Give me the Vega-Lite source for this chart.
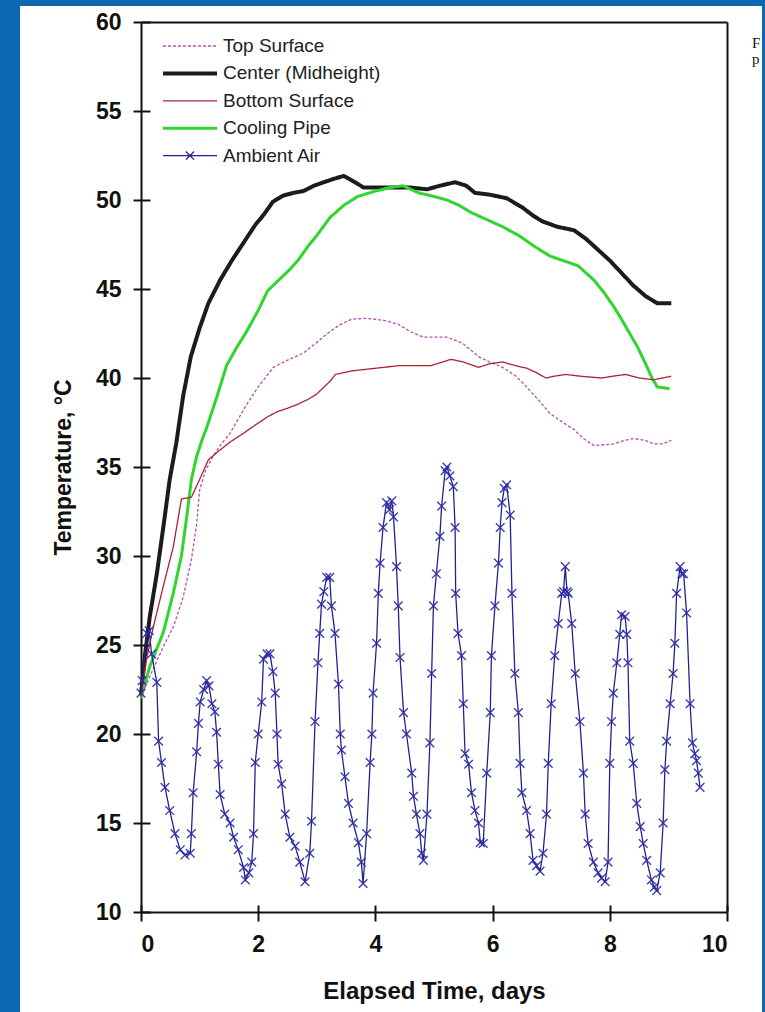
{
  "$schema": "https://vega.github.io/schema/vega-lite/v6.json",
  "width": 742,
  "height": 1006,
  "autosize": {"type": "none"},
  "padding": {"left": 20, "top": 6, "right": 3, "bottom": 0},
  "background": "#0b68b1",
  "title": {"text": ["F", "p"], "orient": "top", "anchor": "end", "frame": "group", "align": "left", "dx": -10, "dy": 61, "font": "Liberation Serif", "fontSize": 15, "fontWeight": "normal", "color": "#111", "lineHeight": 16, "offset": 0},
  "config": {
    "view": {"fill": "white", "stroke": null},
    "font": "Liberation Sans",
    "axis": {"grid": false, "domainColor": "#111", "domainWidth": 2, "tickColor": "#111", "tickWidth": 2, "labelFont": "Liberation Sans", "labelFontWeight": "bold", "labelFontSize": 23, "labelColor": "#111", "titleFont": "Liberation Sans", "titleFontWeight": "bold", "titleFontSize": 23, "titleColor": "#111"},
    "legend": {"labelFont": "Liberation Sans"}
  },
  "datasets": {
    "temps": [
      {"series":"Center (Midheight)","day":0,"temp":22.2},{"series":"Center (Midheight)","day":0.07,"temp":24.5},{"series":"Center (Midheight)","day":0.15,"temp":26.6},{"series":"Center (Midheight)","day":0.27,"temp":29.0},{"series":"Center (Midheight)","day":0.38,"temp":31.6},{"series":"Center (Midheight)","day":0.49,"temp":34.3},{"series":"Center (Midheight)","day":0.6,"temp":36.3},{"series":"Center (Midheight)","day":0.72,"temp":39.0},{"series":"Center (Midheight)","day":0.85,"temp":41.2},{"series":"Center (Midheight)","day":1.0,"temp":42.8},{"series":"Center (Midheight)","day":1.15,"temp":44.2},{"series":"Center (Midheight)","day":1.35,"temp":45.5},{"series":"Center (Midheight)","day":1.55,"temp":46.6},{"series":"Center (Midheight)","day":1.75,"temp":47.6},{"series":"Center (Midheight)","day":1.95,"temp":48.6},{"series":"Center (Midheight)","day":2.1,"temp":49.2},{"series":"Center (Midheight)","day":2.25,"temp":49.9},{"series":"Center (Midheight)","day":2.43,"temp":50.25},{"series":"Center (Midheight)","day":2.6,"temp":50.4},{"series":"Center (Midheight)","day":2.77,"temp":50.5},{"series":"Center (Midheight)","day":2.95,"temp":50.8},{"series":"Center (Midheight)","day":3.12,"temp":51.0},{"series":"Center (Midheight)","day":3.3,"temp":51.2},{"series":"Center (Midheight)","day":3.46,"temp":51.35},{"series":"Center (Midheight)","day":3.6,"temp":51.1},{"series":"Center (Midheight)","day":3.8,"temp":50.7},{"series":"Center (Midheight)","day":4.0,"temp":50.7},{"series":"Center (Midheight)","day":4.3,"temp":50.7},{"series":"Center (Midheight)","day":4.6,"temp":50.7},{"series":"Center (Midheight)","day":4.88,"temp":50.6},{"series":"Center (Midheight)","day":5.1,"temp":50.8},{"series":"Center (Midheight)","day":5.36,"temp":51.0},{"series":"Center (Midheight)","day":5.55,"temp":50.8},{"series":"Center (Midheight)","day":5.7,"temp":50.4},{"series":"Center (Midheight)","day":5.95,"temp":50.3},{"series":"Center (Midheight)","day":6.24,"temp":50.1},{"series":"Center (Midheight)","day":6.5,"temp":49.6},{"series":"Center (Midheight)","day":6.7,"temp":49.1},{"series":"Center (Midheight)","day":6.85,"temp":48.8},{"series":"Center (Midheight)","day":7.1,"temp":48.5},{"series":"Center (Midheight)","day":7.39,"temp":48.3},{"series":"Center (Midheight)","day":7.6,"temp":47.8},{"series":"Center (Midheight)","day":7.8,"temp":47.2},{"series":"Center (Midheight)","day":8.0,"temp":46.6},{"series":"Center (Midheight)","day":8.2,"temp":45.9},{"series":"Center (Midheight)","day":8.4,"temp":45.2},{"series":"Center (Midheight)","day":8.61,"temp":44.6},{"series":"Center (Midheight)","day":8.81,"temp":44.2},{"series":"Center (Midheight)","day":9.05,"temp":44.2},
      {"series":"Cooling Pipe","day":0,"temp":22.0},{"series":"Cooling Pipe","day":0.15,"temp":23.8},{"series":"Cooling Pipe","day":0.38,"temp":25.7},{"series":"Cooling Pipe","day":0.55,"temp":27.9},{"series":"Cooling Pipe","day":0.69,"temp":30.0},{"series":"Cooling Pipe","day":0.78,"temp":32.2},{"series":"Cooling Pipe","day":0.86,"temp":34.3},{"series":"Cooling Pipe","day":0.95,"temp":35.6},{"series":"Cooling Pipe","day":1.05,"temp":36.6},{"series":"Cooling Pipe","day":1.12,"temp":37.2},{"series":"Cooling Pipe","day":1.3,"temp":39.0},{"series":"Cooling Pipe","day":1.46,"temp":40.7},{"series":"Cooling Pipe","day":1.63,"temp":41.7},{"series":"Cooling Pipe","day":1.8,"temp":42.6},{"series":"Cooling Pipe","day":2.0,"temp":43.8},{"series":"Cooling Pipe","day":2.16,"temp":44.9},{"series":"Cooling Pipe","day":2.35,"temp":45.5},{"series":"Cooling Pipe","day":2.54,"temp":46.1},{"series":"Cooling Pipe","day":2.7,"temp":46.7},{"series":"Cooling Pipe","day":2.85,"temp":47.4},{"series":"Cooling Pipe","day":3.0,"temp":48.0},{"series":"Cooling Pipe","day":3.22,"temp":49.0},{"series":"Cooling Pipe","day":3.46,"temp":49.7},{"series":"Cooling Pipe","day":3.7,"temp":50.2},{"series":"Cooling Pipe","day":4.0,"temp":50.5},{"series":"Cooling Pipe","day":4.25,"temp":50.7},{"series":"Cooling Pipe","day":4.47,"temp":50.8},{"series":"Cooling Pipe","day":4.74,"temp":50.4},{"series":"Cooling Pipe","day":5.0,"temp":50.2},{"series":"Cooling Pipe","day":5.22,"temp":50.0},{"series":"Cooling Pipe","day":5.43,"temp":49.7},{"series":"Cooling Pipe","day":5.63,"temp":49.3},{"series":"Cooling Pipe","day":5.9,"temp":48.9},{"series":"Cooling Pipe","day":6.17,"temp":48.5},{"series":"Cooling Pipe","day":6.45,"temp":48.0},{"series":"Cooling Pipe","day":6.71,"temp":47.4},{"series":"Cooling Pipe","day":6.98,"temp":46.85},{"series":"Cooling Pipe","day":7.2,"temp":46.6},{"series":"Cooling Pipe","day":7.46,"temp":46.3},{"series":"Cooling Pipe","day":7.73,"temp":45.5},{"series":"Cooling Pipe","day":7.9,"temp":44.8},{"series":"Cooling Pipe","day":8.07,"temp":44.0},{"series":"Cooling Pipe","day":8.2,"temp":43.3},{"series":"Cooling Pipe","day":8.34,"temp":42.5},{"series":"Cooling Pipe","day":8.48,"temp":41.7},{"series":"Cooling Pipe","day":8.61,"temp":40.8},{"series":"Cooling Pipe","day":8.72,"temp":40.0},{"series":"Cooling Pipe","day":8.81,"temp":39.5},{"series":"Cooling Pipe","day":9.02,"temp":39.4},
      {"series":"Top Surface","day":0,"temp":22.1},{"series":"Top Surface","day":0.2,"temp":23.6},{"series":"Top Surface","day":0.38,"temp":24.9},{"series":"Top Surface","day":0.55,"temp":26.0},{"series":"Top Surface","day":0.72,"temp":27.7},{"series":"Top Surface","day":0.86,"temp":29.8},{"series":"Top Surface","day":0.95,"temp":31.8},{"series":"Top Surface","day":1.0,"temp":33.7},{"series":"Top Surface","day":1.1,"temp":34.8},{"series":"Top Surface","day":1.23,"temp":35.6},{"series":"Top Surface","day":1.35,"temp":36.2},{"series":"Top Surface","day":1.52,"temp":36.9},{"series":"Top Surface","day":1.66,"temp":37.7},{"series":"Top Surface","day":1.8,"temp":38.5},{"series":"Top Surface","day":2.0,"temp":39.5},{"series":"Top Surface","day":2.26,"temp":40.6},{"series":"Top Surface","day":2.5,"temp":41.0},{"series":"Top Surface","day":2.77,"temp":41.4},{"series":"Top Surface","day":3.0,"temp":42.0},{"series":"Top Surface","day":3.22,"temp":42.6},{"series":"Top Surface","day":3.4,"temp":43.0},{"series":"Top Surface","day":3.59,"temp":43.3},{"series":"Top Surface","day":3.8,"temp":43.35},{"series":"Top Surface","day":4.0,"temp":43.3},{"series":"Top Surface","day":4.2,"temp":43.2},{"series":"Top Surface","day":4.4,"temp":43.0},{"series":"Top Surface","day":4.6,"temp":42.6},{"series":"Top Surface","day":4.81,"temp":42.3},{"series":"Top Surface","day":5.0,"temp":42.3},{"series":"Top Surface","day":5.22,"temp":42.3},{"series":"Top Surface","day":5.49,"temp":41.95},{"series":"Top Surface","day":5.76,"temp":41.2},{"series":"Top Surface","day":5.95,"temp":40.9},{"series":"Top Surface","day":6.17,"temp":40.6},{"series":"Top Surface","day":6.4,"temp":40.1},{"series":"Top Surface","day":6.58,"temp":39.5},{"series":"Top Surface","day":6.8,"temp":38.7},{"series":"Top Surface","day":6.98,"temp":38.0},{"series":"Top Surface","day":7.2,"temp":37.5},{"series":"Top Surface","day":7.39,"temp":37.1},{"series":"Top Surface","day":7.55,"temp":36.6},{"series":"Top Surface","day":7.73,"temp":36.2},{"series":"Top Surface","day":7.9,"temp":36.25},{"series":"Top Surface","day":8.07,"temp":36.3},{"series":"Top Surface","day":8.25,"temp":36.5},{"series":"Top Surface","day":8.41,"temp":36.6},{"series":"Top Surface","day":8.6,"temp":36.5},{"series":"Top Surface","day":8.75,"temp":36.3},{"series":"Top Surface","day":8.9,"temp":36.3},{"series":"Top Surface","day":9.05,"temp":36.5},
      {"series":"Bottom Surface","day":0,"temp":22.1},{"series":"Bottom Surface","day":0.1,"temp":24.3},{"series":"Bottom Surface","day":0.21,"temp":26.0},{"series":"Bottom Surface","day":0.38,"temp":28.3},{"series":"Bottom Surface","day":0.55,"temp":30.5},{"series":"Bottom Surface","day":0.69,"temp":33.2},{"series":"Bottom Surface","day":0.86,"temp":33.3},{"series":"Bottom Surface","day":1.0,"temp":34.3},{"series":"Bottom Surface","day":1.15,"temp":35.4},{"series":"Bottom Surface","day":1.29,"temp":35.8},{"series":"Bottom Surface","day":1.52,"temp":36.4},{"series":"Bottom Surface","day":1.75,"temp":36.9},{"series":"Bottom Surface","day":1.97,"temp":37.4},{"series":"Bottom Surface","day":2.15,"temp":37.8},{"series":"Bottom Surface","day":2.32,"temp":38.1},{"series":"Bottom Surface","day":2.5,"temp":38.3},{"series":"Bottom Surface","day":2.66,"temp":38.5},{"series":"Bottom Surface","day":2.85,"temp":38.8},{"series":"Bottom Surface","day":3.0,"temp":39.1},{"series":"Bottom Surface","day":3.22,"temp":39.8},{"series":"Bottom Surface","day":3.32,"temp":40.2},{"series":"Bottom Surface","day":3.6,"temp":40.4},{"series":"Bottom Surface","day":3.87,"temp":40.5},{"series":"Bottom Surface","day":4.15,"temp":40.6},{"series":"Bottom Surface","day":4.41,"temp":40.7},{"series":"Bottom Surface","day":4.7,"temp":40.7},{"series":"Bottom Surface","day":4.95,"temp":40.7},{"series":"Bottom Surface","day":5.15,"temp":40.9},{"series":"Bottom Surface","day":5.29,"temp":41.05},{"series":"Bottom Surface","day":5.5,"temp":40.9},{"series":"Bottom Surface","day":5.76,"temp":40.6},{"series":"Bottom Surface","day":5.95,"temp":40.8},{"series":"Bottom Surface","day":6.17,"temp":40.9},{"series":"Bottom Surface","day":6.38,"temp":40.7},{"series":"Bottom Surface","day":6.58,"temp":40.55},{"series":"Bottom Surface","day":6.75,"temp":40.3},{"series":"Bottom Surface","day":6.91,"temp":40.0},{"series":"Bottom Surface","day":7.05,"temp":40.1},{"series":"Bottom Surface","day":7.25,"temp":40.2},{"series":"Bottom Surface","day":7.5,"temp":40.1},{"series":"Bottom Surface","day":7.86,"temp":40.0},{"series":"Bottom Surface","day":8.05,"temp":40.1},{"series":"Bottom Surface","day":8.27,"temp":40.2},{"series":"Bottom Surface","day":8.5,"temp":40.0},{"series":"Bottom Surface","day":8.75,"temp":39.9},{"series":"Bottom Surface","day":8.9,"temp":40.0},{"series":"Bottom Surface","day":9.05,"temp":40.1},
      {"series":"Ambient Air","day":0,"temp":22.3},{"series":"Ambient Air","day":0.02,"temp":23.0},{"series":"Ambient Air","day":0.1,"temp":25.65},{"series":"Ambient Air","day":0.14,"temp":25.8},{"series":"Ambient Air","day":0.18,"temp":24.5},{"series":"Ambient Air","day":0.27,"temp":22.9},{"series":"Ambient Air","day":0.3,"temp":19.6},{"series":"Ambient Air","day":0.35,"temp":18.4},{"series":"Ambient Air","day":0.41,"temp":17.0},{"series":"Ambient Air","day":0.49,"temp":15.7},{"series":"Ambient Air","day":0.58,"temp":14.4},{"series":"Ambient Air","day":0.67,"temp":13.5},{"series":"Ambient Air","day":0.75,"temp":13.2},{"series":"Ambient Air","day":0.84,"temp":13.3},{"series":"Ambient Air","day":0.86,"temp":14.4},{"series":"Ambient Air","day":0.89,"temp":16.7},{"series":"Ambient Air","day":0.95,"temp":19.0},{"series":"Ambient Air","day":0.98,"temp":20.6},{"series":"Ambient Air","day":1.01,"temp":21.8},{"series":"Ambient Air","day":1.07,"temp":22.5},{"series":"Ambient Air","day":1.12,"temp":23.0},{"series":"Ambient Air","day":1.16,"temp":22.7},{"series":"Ambient Air","day":1.21,"temp":21.7},{"series":"Ambient Air","day":1.26,"temp":21.25},{"series":"Ambient Air","day":1.29,"temp":20.1},{"series":"Ambient Air","day":1.32,"temp":18.3},{"series":"Ambient Air","day":1.35,"temp":16.6},{"series":"Ambient Air","day":1.43,"temp":15.5},{"series":"Ambient Air","day":1.52,"temp":15.0},{"series":"Ambient Air","day":1.58,"temp":14.2},{"series":"Ambient Air","day":1.66,"temp":13.5},{"series":"Ambient Air","day":1.75,"temp":12.5},{"series":"Ambient Air","day":1.78,"temp":11.8},{"series":"Ambient Air","day":1.84,"temp":12.2},{"series":"Ambient Air","day":1.89,"temp":12.8},{"series":"Ambient Air","day":1.92,"temp":14.4},{"series":"Ambient Air","day":1.95,"temp":18.4},{"series":"Ambient Air","day":2.0,"temp":20.0},{"series":"Ambient Air","day":2.06,"temp":21.8},{"series":"Ambient Air","day":2.09,"temp":24.2},{"series":"Ambient Air","day":2.15,"temp":24.5},{"series":"Ambient Air","day":2.2,"temp":24.5},{"series":"Ambient Air","day":2.25,"temp":23.5},{"series":"Ambient Air","day":2.29,"temp":22.3},{"series":"Ambient Air","day":2.32,"temp":20.0},{"series":"Ambient Air","day":2.34,"temp":18.3},{"series":"Ambient Air","day":2.4,"temp":17.2},{"series":"Ambient Air","day":2.46,"temp":15.5},{"series":"Ambient Air","day":2.54,"temp":14.2},{"series":"Ambient Air","day":2.63,"temp":13.7},{"series":"Ambient Air","day":2.71,"temp":12.8},{"series":"Ambient Air","day":2.8,"temp":11.7},{"series":"Ambient Air","day":2.88,"temp":13.3},{"series":"Ambient Air","day":2.91,"temp":15.1},{"series":"Ambient Air","day":2.97,"temp":20.7},{"series":"Ambient Air","day":3.02,"temp":24.0},{"series":"Ambient Air","day":3.05,"temp":25.65},{"series":"Ambient Air","day":3.08,"temp":27.3},{"series":"Ambient Air","day":3.12,"temp":28.0},{"series":"Ambient Air","day":3.17,"temp":28.8},{"series":"Ambient Air","day":3.22,"temp":28.8},{"series":"Ambient Air","day":3.25,"temp":27.2},{"series":"Ambient Air","day":3.31,"temp":25.65},{"series":"Ambient Air","day":3.37,"temp":22.8},{"series":"Ambient Air","day":3.4,"temp":20.0},{"series":"Ambient Air","day":3.42,"temp":19.1},{"series":"Ambient Air","day":3.48,"temp":17.6},{"series":"Ambient Air","day":3.54,"temp":16.1},{"series":"Ambient Air","day":3.62,"temp":15.0},{"series":"Ambient Air","day":3.71,"temp":13.9},{"series":"Ambient Air","day":3.76,"temp":12.8},{"series":"Ambient Air","day":3.79,"temp":11.6},{"series":"Ambient Air","day":3.85,"temp":14.4},{"series":"Ambient Air","day":3.91,"temp":18.4},{"series":"Ambient Air","day":3.94,"temp":20.0},{"series":"Ambient Air","day":3.96,"temp":22.3},{"series":"Ambient Air","day":4.02,"temp":25.1},{"series":"Ambient Air","day":4.05,"temp":27.9},{"series":"Ambient Air","day":4.08,"temp":29.6},{"series":"Ambient Air","day":4.13,"temp":31.6},{"series":"Ambient Air","day":4.19,"temp":33.0},{"series":"Ambient Air","day":4.24,"temp":32.6},{"series":"Ambient Air","day":4.28,"temp":33.1},{"series":"Ambient Air","day":4.31,"temp":32.2},{"series":"Ambient Air","day":4.36,"temp":29.4},{"series":"Ambient Air","day":4.39,"temp":27.2},{"series":"Ambient Air","day":4.42,"temp":24.3},{"series":"Ambient Air","day":4.48,"temp":21.2},{"series":"Ambient Air","day":4.53,"temp":20.0},{"series":"Ambient Air","day":4.62,"temp":17.8},{"series":"Ambient Air","day":4.65,"temp":16.5},{"series":"Ambient Air","day":4.7,"temp":15.5},{"series":"Ambient Air","day":4.76,"temp":14.4},{"series":"Ambient Air","day":4.79,"temp":13.3},{"series":"Ambient Air","day":4.82,"temp":12.9},{"series":"Ambient Air","day":4.88,"temp":15.5},{"series":"Ambient Air","day":4.93,"temp":19.5},{"series":"Ambient Air","day":4.96,"temp":23.4},{"series":"Ambient Air","day":4.99,"temp":27.2},{"series":"Ambient Air","day":5.04,"temp":29.0},{"series":"Ambient Air","day":5.1,"temp":31.1},{"series":"Ambient Air","day":5.13,"temp":32.8},{"series":"Ambient Air","day":5.19,"temp":34.8},{"series":"Ambient Air","day":5.22,"temp":35.0},{"series":"Ambient Air","day":5.27,"temp":34.5},{"series":"Ambient Air","day":5.33,"temp":33.9},{"series":"Ambient Air","day":5.36,"temp":31.6},{"series":"Ambient Air","day":5.37,"temp":27.9},{"series":"Ambient Air","day":5.41,"temp":25.65},{"series":"Ambient Air","day":5.47,"temp":24.4},{"series":"Ambient Air","day":5.5,"temp":21.7},{"series":"Ambient Air","day":5.53,"temp":18.9},{"series":"Ambient Air","day":5.59,"temp":18.3},{"series":"Ambient Air","day":5.64,"temp":16.7},{"series":"Ambient Air","day":5.7,"temp":15.7},{"series":"Ambient Air","day":5.76,"temp":15.0},{"series":"Ambient Air","day":5.79,"temp":13.9},{"series":"Ambient Air","day":5.84,"temp":13.85},{"series":"Ambient Air","day":5.9,"temp":17.8},{"series":"Ambient Air","day":5.96,"temp":21.2},{"series":"Ambient Air","day":5.98,"temp":24.4},{"series":"Ambient Air","day":6.04,"temp":27.2},{"series":"Ambient Air","day":6.1,"temp":29.6},{"series":"Ambient Air","day":6.13,"temp":31.6},{"series":"Ambient Air","day":6.16,"temp":33.0},{"series":"Ambient Air","day":6.2,"temp":33.8},{"series":"Ambient Air","day":6.24,"temp":34.0},{"series":"Ambient Air","day":6.3,"temp":32.3},{"series":"Ambient Air","day":6.33,"temp":27.9},{"series":"Ambient Air","day":6.38,"temp":23.4},{"series":"Ambient Air","day":6.44,"temp":21.2},{"series":"Ambient Air","day":6.47,"temp":18.35},{"series":"Ambient Air","day":6.5,"temp":16.7},{"series":"Ambient Air","day":6.58,"temp":15.7},{"series":"Ambient Air","day":6.64,"temp":14.4},{"series":"Ambient Air","day":6.69,"temp":12.9},{"series":"Ambient Air","day":6.75,"temp":12.6},{"series":"Ambient Air","day":6.81,"temp":12.3},{"series":"Ambient Air","day":6.86,"temp":13.3},{"series":"Ambient Air","day":6.92,"temp":15.5},{"series":"Ambient Air","day":6.95,"temp":18.35},{"series":"Ambient Air","day":7.0,"temp":21.7},{"series":"Ambient Air","day":7.06,"temp":24.4},{"series":"Ambient Air","day":7.12,"temp":26.2},{"series":"Ambient Air","day":7.18,"temp":27.9},{"series":"Ambient Air","day":7.21,"temp":28.0},{"series":"Ambient Air","day":7.24,"temp":29.4},{"series":"Ambient Air","day":7.27,"temp":28.0},{"series":"Ambient Air","day":7.29,"temp":27.9},{"series":"Ambient Air","day":7.35,"temp":26.2},{"series":"Ambient Air","day":7.41,"temp":23.4},{"series":"Ambient Air","day":7.49,"temp":20.7},{"series":"Ambient Air","day":7.55,"temp":17.8},{"series":"Ambient Air","day":7.58,"temp":15.5},{"series":"Ambient Air","day":7.63,"temp":13.85},{"series":"Ambient Air","day":7.72,"temp":12.8},{"series":"Ambient Air","day":7.8,"temp":12.2},{"series":"Ambient Air","day":7.86,"temp":11.9},{"series":"Ambient Air","day":7.92,"temp":11.7},{"series":"Ambient Air","day":7.97,"temp":12.8},{"series":"Ambient Air","day":8.0,"temp":18.35},{"series":"Ambient Air","day":8.03,"temp":20.7},{"series":"Ambient Air","day":8.06,"temp":22.3},{"series":"Ambient Air","day":8.12,"temp":24.0},{"series":"Ambient Air","day":8.17,"temp":25.6},{"series":"Ambient Air","day":8.2,"temp":26.7},{"series":"Ambient Air","day":8.26,"temp":26.6},{"series":"Ambient Air","day":8.29,"temp":25.6},{"series":"Ambient Air","day":8.31,"temp":24.0},{"series":"Ambient Air","day":8.34,"temp":19.6},{"series":"Ambient Air","day":8.4,"temp":18.35},{"series":"Ambient Air","day":8.46,"temp":16.1},{"series":"Ambient Air","day":8.52,"temp":14.8},{"series":"Ambient Air","day":8.57,"temp":13.85},{"series":"Ambient Air","day":8.63,"temp":12.9},{"series":"Ambient Air","day":8.71,"temp":11.8},{"series":"Ambient Air","day":8.76,"temp":11.4},{"series":"Ambient Air","day":8.8,"temp":11.2},{"series":"Ambient Air","day":8.86,"temp":12.2},{"series":"Ambient Air","day":8.91,"temp":15.0},{"series":"Ambient Air","day":8.94,"temp":18.0},{"series":"Ambient Air","day":8.97,"temp":19.6},{"series":"Ambient Air","day":9.03,"temp":21.7},{"series":"Ambient Air","day":9.08,"temp":23.4},{"series":"Ambient Air","day":9.11,"temp":25.1},{"series":"Ambient Air","day":9.14,"temp":27.9},{"series":"Ambient Air","day":9.2,"temp":29.4},{"series":"Ambient Air","day":9.23,"temp":29.0},{"series":"Ambient Air","day":9.26,"temp":29.0},{"series":"Ambient Air","day":9.31,"temp":26.8},{"series":"Ambient Air","day":9.37,"temp":21.7},{"series":"Ambient Air","day":9.41,"temp":19.5},{"series":"Ambient Air","day":9.45,"temp":18.9},{"series":"Ambient Air","day":9.48,"temp":18.5},{"series":"Ambient Air","day":9.51,"temp":17.8},{"series":"Ambient Air","day":9.54,"temp":17.0}
    ]
  },
  "data": {"name": "temps"},
  "resolve": {"axis": {"x": "independent", "y": "independent"}},
  "layer": [
    {
      "mark": {"type": "line", "clip": false},
      "encoding": {
        "x": {"field": "day", "type": "quantitative",
              "scale": {"domain": [0, 10], "range": [121, 707], "nice": false, "zero": false},
              "axis": {"orient": "bottom", "offset": -100, "values": [0, 2, 4, 6, 8, 10], "tickSize": 9, "labelPadding": 12, "title": "Elapsed Time, days", "titleY": 86, "titleBaseline": "alphabetic", "titleFontSize": 24}},
        "y": {"field": "temp", "type": "quantitative",
              "scale": {"domain": [10, 60], "range": [906, 16], "nice": false, "zero": false},
              "axis": {"orient": "left", "offset": -121, "values": [10, 15, 20, 25, 30, 35, 40, 45, 50, 55, 60], "tickSize": 8, "labelPadding": 12, "title": "Temperature, °C", "titleX": -71, "titleBaseline": "alphabetic", "titleFontSize": 23}},
        "color": {"field": "series", "type": "nominal",
                  "scale": {"domain": ["Top Surface", "Center (Midheight)", "Bottom Surface", "Cooling Pipe", "Ambient Air"],
                            "range": ["#b050b0", "#1c1c1c", "#a82535", "#2ed62e", "#22228f"]},
                  "legend": {"orient": "none", "legendX": 160.5, "legendY": 30.5, "title": null, "symbolType": "M-10,0H10", "symbolSize": 29.2, "rowPadding": 7.4, "labelFontSize": 19, "labelColor": "#222", "labelOffset": 23.5, "padding": 0, "symbolOpacity": 1}},
        "strokeDash": {"field": "series", "type": "nominal",
                  "scale": {"domain": ["Top Surface", "Center (Midheight)", "Bottom Surface", "Cooling Pipe", "Ambient Air"],
                            "range": [[3, 2], [1, 0], [1, 0], [1, 0], [1, 0]]}},
        "strokeWidth": {"field": "series", "type": "nominal",
                  "scale": {"type": "ordinal", "domain": ["Top Surface", "Center (Midheight)", "Bottom Surface", "Cooling Pipe", "Ambient Air"],
                            "range": [1.3, 4, 1.3, 3, 1.3]}},
        "order": {"field": "day", "type": "quantitative"}
      }
    },
    {
      "transform": [{"filter": "datum.series === 'Ambient Air'"}],
      "mark": {"type": "point", "filled": false, "shape": "M-1,-1L1,1M-1,1L1,-1", "size": 75, "strokeWidth": 1.4, "color": "#2a2aa5", "opacity": 0.9, "clip": false},
      "encoding": {
        "x": {"field": "day", "type": "quantitative",
              "axis": {"orient": "bottom", "offset": -100, "values": [0, 2, 4, 6, 8, 10], "tickSize": -7, "labels": false, "domain": false, "title": null}},
        "y": {"field": "temp", "type": "quantitative",
              "axis": {"orient": "left", "offset": -121, "values": [10, 15, 20, 25, 30, 35, 40, 45, 50, 55, 60], "tickSize": -9, "labels": false, "domain": false, "title": null}}
      }
    },
    {
      "transform": [{"filter": "datum.series === 'Ambient Air'"}],
      "mark": {"type": "point", "opacity": 0, "filled": false},
      "encoding": {
        "x": {"field": "day", "type": "quantitative",
              "axis": {"orient": "top", "offset": -16, "ticks": false, "labels": false, "domain": true, "title": null}},
        "y": {"field": "temp", "type": "quantitative",
              "axis": {"orient": "right", "offset": -35, "ticks": false, "labels": false, "domain": true, "title": null}},
        "shape": {"field": "series", "type": "nominal",
                  "scale": {"domain": ["Top Surface", "Center (Midheight)", "Bottom Surface", "Cooling Pipe", "Ambient Air"],
                            "range": ["M-10,0H10", "M-10,0H10", "M-10,0H10", "M-10,0H10", "M-10,0H10M-1.5,-1.5L1.5,1.5M-1.5,1.5L1.5,-1.5"]},
                  "legend": {"orient": "none", "legendX": 160.5, "legendY": 30.5, "title": null, "symbolType": "M-10,0H10", "symbolSize": 29.2, "rowPadding": 7.4, "labelFontSize": 19, "labelColor": "#222", "labelOffset": 23.5, "padding": 0, "symbolOpacity": 1}}
      }
    }
  ]
}
